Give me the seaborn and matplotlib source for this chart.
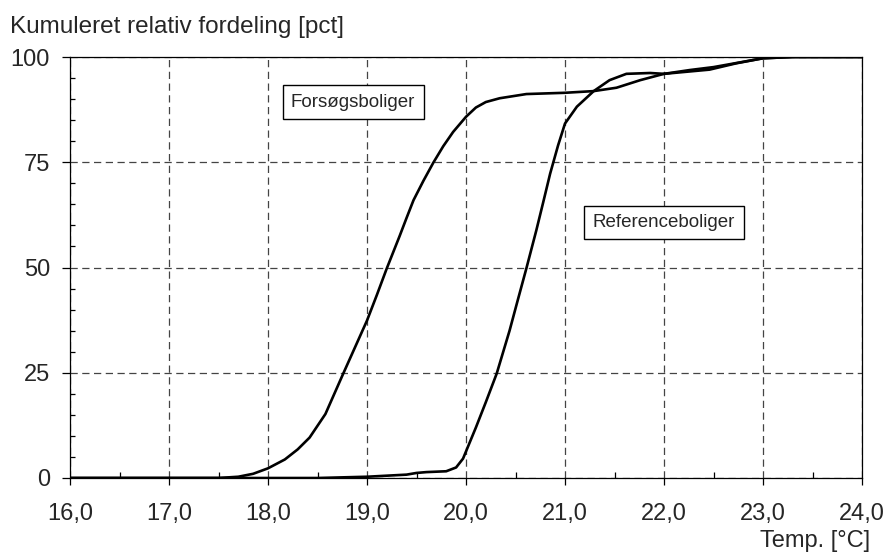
import numpy as np
import pandas as pd
import matplotlib
matplotlib.use('Agg')
import matplotlib.pyplot as plt
from matplotlib.ticker import MultipleLocator, FuncFormatter
import seaborn as sns

# aflæste punkter for de to kumulerede fordelinger
forsoeg_temp = [16.0, 17.0, 17.5, 17.7, 17.85, 18.0, 18.17, 18.3, 18.42, 18.58, 18.76, 19.0,
                19.1, 19.2, 19.33, 19.4, 19.47, 19.57, 19.67, 19.77, 19.87, 20.0, 20.1, 20.2,
                20.34, 20.61, 21.0, 21.29, 21.52, 21.76, 22.0, 22.46, 22.73, 23.0, 23.3, 24.0]
forsoeg_pct = [0.0, 0.0, 0.0, 0.3, 1.0, 2.3, 4.4, 6.8, 9.6, 15.2, 24.8, 37.4,
               43.5, 49.8, 57.5, 61.8, 66.0, 70.6, 74.9, 78.8, 82.2, 85.8, 88.0, 89.3,
               90.2, 91.2, 91.5, 91.9, 92.7, 94.5, 96.0, 97.0, 98.5, 99.7, 100.0, 100.0]

reference_temp = [16.0, 18.5, 19.0, 19.4, 19.5, 19.6, 19.8, 19.9, 19.97, 20.1, 20.2, 20.31,
                  20.44, 20.52, 20.61, 20.71, 20.78, 20.85, 20.93, 21.0, 21.12, 21.29, 21.45,
                  21.62, 21.86, 22.0, 22.26, 22.5, 23.0, 23.3, 24.0]
reference_pct = [0.0, 0.0, 0.3, 0.8, 1.2, 1.4, 1.6, 2.5, 4.6, 12.0, 18.0, 24.8,
                 35.0, 42.0, 49.8, 58.8, 65.5, 72.3, 79.0, 84.2, 88.2, 91.9, 94.5,
                 96.0, 96.2, 96.0, 96.9, 97.6, 99.7, 100.0, 100.0]

df = pd.concat([
    pd.DataFrame({'temp': forsoeg_temp, 'pct': forsoeg_pct, 'gruppe': 'Forsøgsboliger'}),
    pd.DataFrame({'temp': reference_temp, 'pct': reference_pct, 'gruppe': 'Referenceboliger'}),
])

sns.set_theme(style='white')
plt.rcParams['font.family'] = ['Liberation Sans', 'DejaVu Sans']

fig = plt.figure(figsize=(8.89, 5.54), dpi=100)
ax = fig.add_axes([70 / 889, 1 - 478 / 554, 792 / 889, 421 / 554])

sns.lineplot(data=df, x='temp', y='pct', units='gruppe', estimator=None, sort=True,
             color='black', linewidth=1.9, ax=ax, legend=False)

ax.set_xlim(16, 24)
ax.set_ylim(0, 100)
ax.xaxis.set_major_locator(MultipleLocator(1))
ax.xaxis.set_minor_locator(MultipleLocator(0.5))
ax.yaxis.set_major_locator(MultipleLocator(25))
ax.yaxis.set_minor_locator(MultipleLocator(5))
ax.xaxis.set_major_formatter(FuncFormatter(lambda v, p: f'{v:.1f}'.replace('.', ',')))
ax.yaxis.set_major_formatter(FuncFormatter(lambda v, p: f'{v:.0f}'))

# tick-længder og afstande i punkter (1 pt = 1,39 px ved 100 dpi)
ax.grid(True, which='major', color='#444444', linestyle=(0, (5.8, 3.6)), linewidth=0.9)
ax.tick_params(axis='x', which='major', direction='out', length=5, width=0.9,
               labelsize=17, color='black', bottom=True, pad=13)
ax.tick_params(axis='y', which='major', direction='out', length=5.8, width=0.9,
               labelsize=17, color='black', left=True, pad=8.6)
ax.tick_params(axis='x', which='minor', direction='in', length=4.3, width=0.9,
               color='black', bottom=True)
ax.tick_params(axis='y', which='minor', direction='in', length=3.6, width=0.9,
               color='black', left=True)
for side in ['left', 'bottom', 'right', 'top']:
    ax.spines[side].set_color('black')
    ax.spines[side].set_linewidth(0.9)

ax.set_xlabel('')
ax.set_ylabel('')
fig.text(10 / 889, 1 - 33 / 554, 'Kumuleret relativ fordeling [pct]', fontsize=17.5,
         ha='left', va='baseline')
fig.text(870 / 889, 1 - 547 / 554, 'Temp. [°C]', fontsize=17, ha='right', va='baseline')

box = dict(boxstyle='square,pad=0.45', facecolor='white', edgecolor='black', linewidth=1)
ax.text(18.86, 89.3, 'Forsøgsboliger', fontsize=13.5, ha='center', va='center', bbox=box)
ax.text(22.0, 60.7, 'Referenceboliger', fontsize=13.5, ha='center', va='center', bbox=box)

plt.savefig('out.png', dpi=100)
plt.close()
